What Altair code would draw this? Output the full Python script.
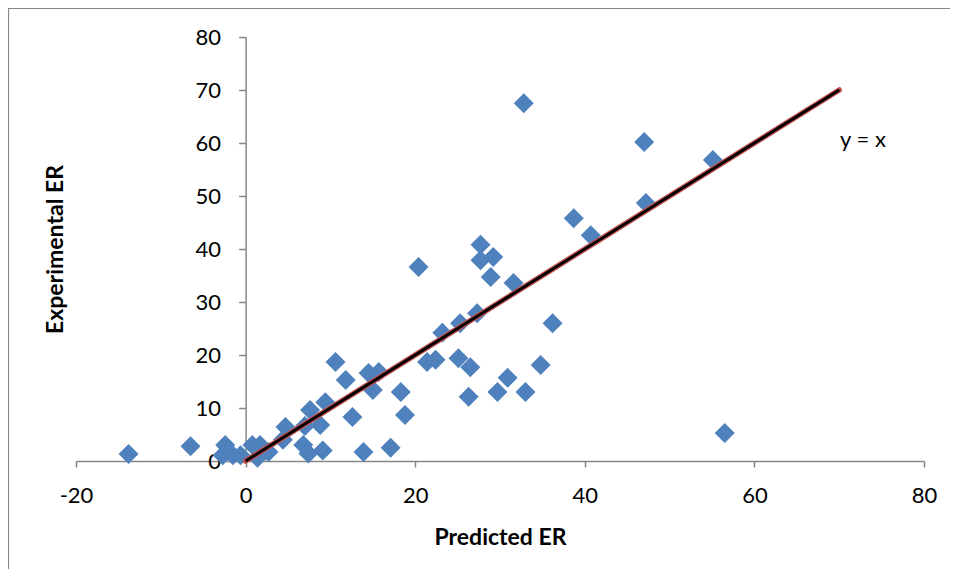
import altair as alt
import pandas as pd

# Data
predicted = [-13.8, -6.5, -2.4, -2.7, -1.5, -0.6, 0.8, 1.7, 1.4, 2.7, 4.7, 4.4, 7.6, 9.4, 7.0, 8.8, 6.8, 7.4, 9.1,
             10.6, 11.8, 14.5, 15.7, 15.0, 18.3, 18.8, 12.6, 13.9, 17.1,
             21.4, 22.4, 23.2, 25.3, 27.3, 36.2, 25.1, 26.5, 30.9, 29.7, 33.0, 34.8, 26.3,
             20.4, 27.7, 27.7, 29.2, 28.9, 31.6, 32.8, 38.7, 40.7, 47.2, 47.0, 55.1, 56.5]
experimental = [1.3, 2.8, 3.0, 1.1, 1.1, 1.1, 3.0, 3.0, 0.6, 1.7, 6.4, 4.0, 9.6, 11.1, 6.6, 6.8, 3.0, 1.4, 2.0,
                18.7, 15.3, 16.6, 16.8, 13.4, 13.0, 8.7, 8.3, 1.7, 2.5,
                18.7, 19.1, 24.2, 26.0, 27.9, 26.0, 19.4, 17.7, 15.7, 13.0, 13.0, 18.1, 12.1,
                36.6, 40.8, 37.9, 38.5, 34.7, 33.6, 67.5, 45.8, 42.6, 48.7, 60.2, 56.8, 5.3]
line_x = [0, 70]
line_y = [0, 70]
label_text = ["y = x"]
label_x = [72.8]
label_y = [60.6]
x_ticks = [-20, 0, 20, 40, 60, 80]
y_ticks = [0, 10, 20, 30, 40, 50, 60, 70, 80]

W, H = 848, 424
FONT = "Lato"
AXIS_GRAY = "#868686"
XF, YF = "Predicted ER", "Experimental ER"

pts = pd.DataFrame({XF: predicted, YF: experimental})
ln = pd.DataFrame({XF: line_x, YF: line_y})
lab = pd.DataFrame({"t": label_text, XF: label_x, YF: label_y})
one = pd.DataFrame({"d": [0]})

xscale = alt.Scale(domain=[-20, 80], nice=False, zero=False)
yscale = alt.Scale(domain=[0, 80], nice=False, zero=False)

x_axis = alt.Axis(values=x_ticks, labelExpr="datum.value + ''", tickSize=6, labelPadding=18,
                  labelFlush=False, labelOverlap=False,
                  titleBaseline="alphabetic", titleY=83, titleX=W / 2, titleAlign="center")
y_axis = alt.Axis(values=y_ticks, labelExpr="datum.value + ''", tickSize=7, labelPadding=18,
                  labelFlush=False, labelOverlap=False,
                  offset=-W * 0.2, titleBaseline="alphabetic", titleX=-183.6, titleY=H / 2,
                  titleAngle=270, titleAlign="center")

X = alt.X(f"{XF}:Q", scale=xscale, axis=x_axis, title=XF)
Y = alt.Y(f"{YF}:Q", scale=yscale, axis=y_axis, title=YF)

points = alt.Chart(pts).mark_point(shape="diamond", filled=True, size=400, color="#4F81BD", opacity=1).encode(
    x=X, y=Y
)
red_line = alt.Chart(ln).mark_line(color="#C0504D", strokeWidth=5.5, strokeCap="round").encode(x=X, y=Y)
black_line = alt.Chart(ln).mark_line(color="black", strokeWidth=2.8, strokeCap="butt").encode(x=X, y=Y)

text = alt.Chart(lab).mark_text(font=FONT, fontSize=22, color="black", align="center", baseline="middle").encode(
    x=X, y=Y, text="t:N"
)

border_top = alt.Chart(one).mark_rule(color=AXIS_GRAY, strokeWidth=1.2).encode(
    x=alt.value(-68), x2=alt.value(W + 26), y=alt.value(-28.5)
)
border_left = alt.Chart(one).mark_rule(color=AXIS_GRAY, strokeWidth=1.2).encode(
    x=alt.value(-67.5), y=alt.value(-29), y2=alt.value(H + 108)
)

chart = alt.layer(border_top, border_left, points, red_line, black_line, text).properties(
    width=W, height=H,
    autosize=alt.AutoSizeParams(type="none"),
    padding={"left": 68, "top": 29, "right": 26, "bottom": 108},
    background="white",
).configure_view(stroke=None).configure_axis(
    grid=False,
    domainColor=AXIS_GRAY, domainWidth=1.5,
    tickColor=AXIS_GRAY, tickWidth=1.5,
    labelFont=FONT, labelFontSize=22, labelColor="black",
    titleFont=FONT, titleFontSize=23, titleFontWeight="bold", titleColor="black",
)

chart.save("out.html", embed_options={"renderer": "svg", "actions": False})
